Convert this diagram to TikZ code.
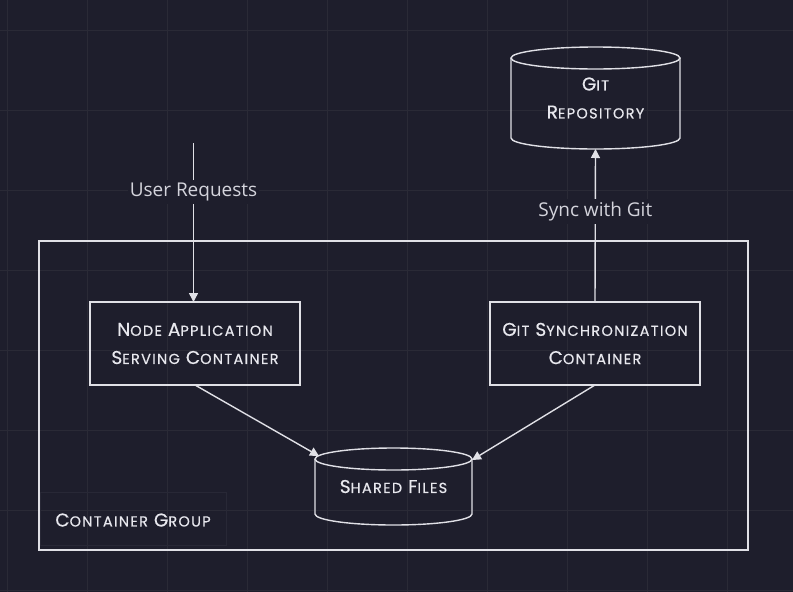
\documentclass[tikz,border=0pt]{standalone}
\usepackage{fontspec}
\setmainfont[LetterSpace=9,FakeBold=0.5]{Poppins}
\newfontfamily\labelfont{Open Sans}
\usetikzlibrary{arrows.meta,calc}
\definecolor{bgc}{RGB}{30,30,44}
\definecolor{gridc}{RGB}{42,42,54}
\definecolor{linec}{RGB}{224,224,230}
\definecolor{txtc}{RGB}{232,232,238}
\definecolor{lblc}{RGB}{212,212,220}
\definecolor{faintc}{RGB}{40,40,54}
\newcommand\SCw[2]{{\fontsize{18.5}{20}\selectfont #1}{\fontsize{14.5}{20}\selectfont #2}}
\newcommand\ws{\hspace{6pt}}
\begin{document}
\begin{tikzpicture}[x=1pt,y=-1pt,
  every node/.style={inner sep=0pt, outer sep=0pt},
  ln/.style={draw=linec, line width=1.4pt},
  arr/.style={ln, -{Triangle[length=9pt,width=9pt]}},
  boxtext/.style={text=txtc, align=center},
  procbox/.style={draw=linec, line width=1.4pt, minimum width=210pt, minimum height=83pt, boxtext},
  lbl/.style={fill=bgc, text=lblc, font=\labelfont\fontsize{19}{20}\selectfont, inner xsep=2pt, inner ysep=3pt},
]
% background
\fill[bgc] (0,0) rectangle (793,592);
\useasboundingbox (0,0) rectangle (793,592);
\foreach \x in {7,87,...,727} \draw[gridc, line width=1pt] (\x,0) -- (\x,592);
\foreach \y in {30,110,...,590} \draw[gridc, line width=1pt] (0,\y) -- (793,\y);

% container group
\node[draw=linec, line width=1.4pt, minimum width=709pt, minimum height=309pt] (group) at (393.5,395.5) {};
\node[draw=faintc, line width=1pt, minimum width=186pt, minimum height=53pt] (grouplbl) at (133,518.5) {};
\node[boxtext] (grouptxt) at (133,520) {\SCw{C}{ONTAINER}\ws\SCw{G}{ROUP}};

% git repository cylinder
\node[minimum width=169pt, minimum height=102pt, boxtext, align=center] (git) at (595.5,98)
  {\SCw{G}{IT}\\[14pt]\SCw{R}{EPOSITORY}};
\draw[ln] (595.5,58) ellipse (84.5 and 11);
\draw[ln] (511,58) -- (511,138) arc (180:0:84.5 and 11) -- (680,58);

% shared files cylinder
\node[minimum width=157pt, minimum height=77pt, boxtext] (shared) at (393.5,486.5) {\SCw{S}{HARED}\ws\SCw{F}{ILES}};
\draw[ln] (393.5,459) ellipse (78.5 and 11);
\draw[ln] (315,459) -- (315,514) arc (180:0:78.5 and 11) -- (472,459);

% process boxes
\node[procbox] (nodeapp) at (195,343.5) {\SCw{N}{ODE}\ws\SCw{A}{PPLICATION}\\[14pt]\SCw{S}{ERVING}\ws\SCw{C}{ONTAINER}};
\node[procbox] (gitsync) at (595,343.5) {\SCw{G}{IT}\ws\SCw{S}{YNCHRONIZATION}\\[14pt]\SCw{C}{ONTAINER}};

% user requests
\coordinate (userstart) at (193.5,143);
\draw[arr] (userstart) -- (userstart |- nodeapp.north) node[lbl, pos=0.31] (ulbl) {User Requests};

% sync with git
\draw[arr] (gitsync.north) -- (git.south) node[lbl, pos=0.59] (slbl) {Sync with Git};

% to shared files
\draw[arr] (nodeapp.south) -- ($(shared.north west)+(4,8)$);
\draw[arr] (gitsync.south) -- ($(shared.north east)+(0,12)$);
\end{tikzpicture}
\end{document}
